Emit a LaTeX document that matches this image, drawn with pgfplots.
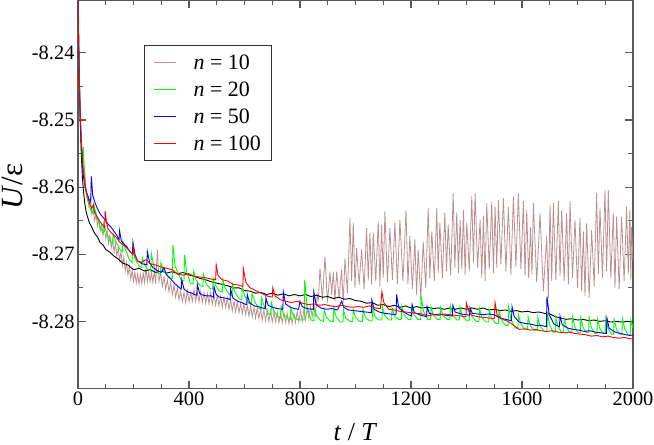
\documentclass[border=0pt]{standalone}
\usepackage{fontspec}
\setmainfont{Liberation Serif}
\usepackage{pgfplots}
\pgfplotsset{compat=1.18}
\definecolor{cbrown}{RGB}{188,143,143}
\definecolor{cgreen}{RGB}{0,255,0}
\definecolor{cblue}{RGB}{0,0,255}
\definecolor{cred}{RGB}{255,0,0}
\begin{document}
\begin{tikzpicture}
\begin{axis}[
  at={(0,0)}, anchor=south west,
  scale only axis, width=555bp, height=388bp,
  xmin=0, xmax=2000, ymin=-8.29, ymax=-8.2322,
  xtick={0,400,800,1200,1600,2000},
  xticklabels={0,400,800,1200,1600,2000},
  minor x tick num=3,
  ytick={-8.28,-8.27,-8.26,-8.25,-8.24},
  yticklabels={-8.28,-8.27,-8.26,-8.25,-8.24},
  minor y tick num=1,
  /pgf/number format/assume math mode=true,
  tick align=inside,
  major tick length=8bp, minor tick length=5bp,
  axis line style={black!65, line width=1.2bp},
  every tick/.style={black!65, line width=1.2bp},
  ticklabel style={font=\fontsize{20.5}{24}\selectfont},
  xlabel={\textit{t} / \textit{T}},
  ylabel={\textit{U}/ε},
  xlabel style={font=\fontsize{26}{30}\selectfont, at={(axis description cs:0.5,0)}, anchor=base, yshift=-51.5bp},
  ylabel style={font=\fontsize{31}{35}\selectfont, at={(axis description cs:-0.0995,0.5206)}, anchor=base},
  legend cell align=left,
  legend image code/.code={\draw[#1, line width=1bp] (0bp,0bp) -- (22bp,0bp);},
  legend style={at={(axis description cs:0.1189,0.8853)}, anchor=north west,
    draw=black!80, line width=1.2bp, fill=white,
    font=\fontsize{22}{26}\selectfont,
    inner xsep=9bp, inner ysep=7bp, row sep=7bp,
    /tikz/every odd column/.append style={column sep=15bp}},
]
% n = 10
\addplot[cbrown, line width=0.8bp] coordinates {
(0,-8.2320) (4,-8.2425) (8,-8.2497) (12,-8.2540) (16,-8.2566) (20,-8.2582) (24,-8.2572) (28,-8.2602) (34,-8.2612) (40,-8.2628) (45,-8.2618) (50,-8.2640) (55,-8.2632) (60,-8.2650) (65,-8.2640) (70,-8.2658) (75,-8.2648) (80,-8.2665) (85,-8.2655) (90,-8.2672) (95,-8.2660) (100,-8.2677) (105,-8.2666) (110,-8.2684) (115,-8.2672) (120,-8.2690) (125,-8.2678) (130,-8.2697) (135,-8.2684) (140,-8.2703) (145,-8.2690) (150,-8.2709) (155,-8.2696) (160,-8.2717) (165,-8.2704) (170,-8.2725) (175,-8.2712) (180,-8.2731) (185,-8.2718) (190,-8.2737) (195,-8.2724) (200,-8.2740) (205,-8.2727) (210,-8.2743) (215,-8.2729) (220,-8.2745) (225,-8.2730) (230,-8.2744) (235,-8.2728) (240,-8.2742) (245,-8.2720) (250,-8.2741) (255,-8.2726) (260,-8.2741) (265,-8.2727) (270,-8.2742) (275,-8.2725) (280,-8.2744) (286,-8.2693) (292,-8.2740) (298,-8.2728) (304,-8.2748) (310,-8.2734) (316,-8.2752) (322,-8.2738) (328,-8.2756) (334,-8.2742) (340,-8.2760) (346,-8.2746) (352,-8.2764) (358,-8.2750) (364,-8.2768) (370,-8.2755) (376,-8.2771) (382,-8.2757) (388,-8.2772) (394,-8.2754) (400,-8.2771) (406,-8.2757) (412,-8.2770) (418,-8.2752) (424,-8.2770) (430,-8.2756) (436,-8.2771) (442,-8.2755) (448,-8.2772) (454,-8.2757) (460,-8.2773) (466,-8.2758) (472,-8.2774) (478,-8.2757) (484,-8.2775) (490,-8.2760) (496,-8.2776) (502,-8.2761) (508,-8.2777) (514,-8.2762) (520,-8.2779) (526,-8.2764) (532,-8.2780) (538,-8.2765) (544,-8.2782) (550,-8.2768) (556,-8.2784) (562,-8.2770) (568,-8.2786) (574,-8.2771) (580,-8.2787) (586,-8.2773) (592,-8.2789) (598,-8.2774) (604,-8.2790) (610,-8.2776) (616,-8.2792) (622,-8.2777) (628,-8.2793) (634,-8.2779) (640,-8.2795) (646,-8.2780) (652,-8.2796) (658,-8.2782) (664,-8.2798) (670,-8.2783) (676,-8.2799) (682,-8.2784) (688,-8.2800) (694,-8.2785) (700,-8.2801) (706,-8.2786) (712,-8.2801) (718,-8.2786) (724,-8.2802) (730,-8.2787) (736,-8.2802) (742,-8.2787) (748,-8.2802) (754,-8.2788) (760,-8.2803) (766,-8.2788) (772,-8.2803) (778,-8.2788) (784,-8.2802) (790,-8.2785) (796,-8.2801) (802,-8.2784) (808,-8.2800) (814,-8.2782) (820,-8.2798) (826,-8.2780) (832,-8.2796) (838,-8.2778) (844,-8.2793) (850,-8.2776) (856,-8.2790) (862,-8.2760)
(866,-8.2768) (872,-8.2721) (881,-8.2768) (890,-8.2703) (899,-8.2772) (908,-8.2726) (914,-8.2760) (920,-8.2726) (926,-8.2770) (932,-8.2726) (941,-8.2765) (950,-8.2723) (956,-8.2772) (962,-8.2706) (971,-8.2758) (980,-8.2646) (986,-8.2740) (992,-8.2653) (998,-8.2750) (1004,-8.2691) (1013,-8.2745) (1022,-8.2693) (1031,-8.2752) (1040,-8.2661) (1046,-8.2738) (1052,-8.2668) (1058,-8.2745) (1064,-8.2668) (1073,-8.2740) (1082,-8.2651) (1088,-8.2748) (1094,-8.2656) (1100,-8.2735) (1106,-8.2636) (1115,-8.2742) (1124,-8.2661) (1133,-8.2738) (1142,-8.2653) (1151,-8.2745) (1160,-8.2649) (1171,-8.2740) (1182,-8.2634) (1189,-8.2745) (1196,-8.2673) (1205,-8.2752) (1214,-8.2678) (1220,-8.2760) (1226,-8.2693) (1235,-8.2768) (1244,-8.2681) (1253,-8.2750) (1262,-8.2631) (1268,-8.2735) (1275,-8.2666) (1284,-8.2740) (1293,-8.2631) (1298,-8.2728) (1304,-8.2653) (1313,-8.2735) (1322,-8.2638) (1328,-8.2725) (1334,-8.2656) (1343,-8.2732) (1352,-8.2609) (1358,-8.2720) (1365,-8.2638) (1371,-8.2728) (1377,-8.2649) (1383,-8.2722) (1389,-8.2634) (1395,-8.2730) (1401,-8.2653) (1410,-8.2725) (1419,-8.2614) (1425,-8.2712) (1431,-8.2609) (1440,-8.2720) (1449,-8.2649) (1455,-8.2735) (1461,-8.2643) (1467,-8.2740) (1473,-8.2624) (1482,-8.2722) (1491,-8.2622) (1497,-8.2728) (1503,-8.2629) (1509,-8.2720) (1515,-8.2619) (1524,-8.2715) (1533,-8.2616) (1542,-8.2725) (1551,-8.2629) (1560,-8.2730) (1569,-8.2614) (1578,-8.2718) (1587,-8.2609) (1596,-8.2722) (1605,-8.2621) (1611,-8.2732) (1617,-8.2634) (1624,-8.2735) (1631,-8.2660) (1636,-8.2730) (1641,-8.2624) (1653,-8.2742) (1665,-8.2639) (1677,-8.2755) (1689,-8.2673) (1695,-8.2765) (1701,-8.2626) (1707,-8.2740) (1713,-8.2624) (1722,-8.2738) (1731,-8.2621) (1737,-8.2732) (1743,-8.2634) (1752,-8.2740) (1761,-8.2639) (1767,-8.2745) (1773,-8.2621) (1782,-8.2735) (1791,-8.2649) (1800,-8.2750) (1809,-8.2646) (1815,-8.2755) (1821,-8.2666) (1827,-8.2762) (1833,-8.2654) (1842,-8.2765) (1851,-8.2664) (1860,-8.2748) (1869,-8.2609) (1875,-8.2730) (1881,-8.2631) (1890,-8.2735) (1899,-8.2604) (1905,-8.2725) (1911,-8.2604) (1920,-8.2735) (1929,-8.2639) (1935,-8.2750) (1941,-8.2644) (1950,-8.2752) (1959,-8.2644) (1968,-8.2740) (1977,-8.2629) (1983,-8.2730) (1989,-8.2634) (1992,-8.2738) (1995,-8.2659) (2000,-8.2710)
};
\addlegendentry{\textit{n} = 10}
% black (not in legend)
\addplot[black, line width=0.9bp, forget plot] coordinates {
(0,-8.2320) (4,-8.2430) (8,-8.2500) (12,-8.2552) (16,-8.2587) (20,-8.2607) (25,-8.2626) (30,-8.2638) (35,-8.2645) (40,-8.2652) (50,-8.2660) (60,-8.2669) (70,-8.2674) (80,-8.2683) (90,-8.2686) (100,-8.2693) (115,-8.2697) (130,-8.2703) (145,-8.2707) (160,-8.2713) (180,-8.2716) (200,-8.2723) (220,-8.2721) (240,-8.2725) (260,-8.2723) (280,-8.2727) (300,-8.2725) (320,-8.2728) (340,-8.2726) (360,-8.2729) (380,-8.2727) (400,-8.2731) (420,-8.2733) (440,-8.2736) (460,-8.2738) (480,-8.2741) (500,-8.2743) (520,-8.2745) (540,-8.2747) (560,-8.2750) (580,-8.2750) (600,-8.2754) (620,-8.2755) (640,-8.2758) (660,-8.2757) (680,-8.2760) (700,-8.2758) (720,-8.2761) (740,-8.2759) (760,-8.2762) (780,-8.2760) (800,-8.2762) (820,-8.2760) (840,-8.2763) (860,-8.2761) (880,-8.2764) (900,-8.2763) (920,-8.2766) (940,-8.2764) (960,-8.2767) (980,-8.2766) (1000,-8.2769) (1020,-8.2770) (1040,-8.2773) (1060,-8.2772) (1080,-8.2776) (1100,-8.2775) (1120,-8.2778) (1140,-8.2776) (1160,-8.2779) (1180,-8.2777) (1200,-8.2780) (1220,-8.2778) (1240,-8.2780) (1260,-8.2779) (1280,-8.2781) (1300,-8.2780) (1320,-8.2782) (1340,-8.2780) (1360,-8.2782) (1380,-8.2780) (1400,-8.2782) (1420,-8.2780) (1440,-8.2782) (1460,-8.2780) (1480,-8.2783) (1500,-8.2782) (1520,-8.2784) (1540,-8.2783) (1560,-8.2785) (1580,-8.2784) (1600,-8.2786) (1620,-8.2785) (1640,-8.2787) (1660,-8.2786) (1680,-8.2788) (1700,-8.2789) (1720,-8.2793) (1740,-8.2795) (1760,-8.2797) (1780,-8.2796) (1800,-8.2798) (1820,-8.2797) (1840,-8.2799) (1860,-8.2798) (1880,-8.2800) (1900,-8.2799) (1920,-8.2801) (1940,-8.2800) (1960,-8.2801) (1980,-8.2800) (2000,-8.2801)
};
% n = 20
\addplot[cgreen, line width=0.9bp] coordinates {
(0,-8.2320) (4,-8.2428) (8,-8.2495) (12,-8.2533) (16,-8.2560) (17,-8.2568) (19,-8.2540) (24,-8.2590) (30,-8.2612) (40,-8.2628) (50,-8.2638)
(55,-8.2640) (57,-8.2626) (65,-8.2640) (80,-8.2660)
(90,-8.2668) (92,-8.2654) (100,-8.2664) (115,-8.2680)
(125,-8.2684) (127,-8.2670) (135,-8.2680) (150,-8.2692)
(160,-8.2696) (162,-8.2680) (170,-8.2692) (185,-8.2708)
(195,-8.2712) (197,-8.2695) (205,-8.2706) (220,-8.2718)
(230,-8.2720) (232,-8.2705) (240,-8.2715) (252,-8.2723)
(262,-8.2725) (264,-8.2698) (272,-8.2716) (287,-8.2728)
(297,-8.2730) (299,-8.2712) (307,-8.2724) (330,-8.2735)
(340,-8.2736) (342,-8.2686) (350,-8.2718) (372,-8.2739)
(382,-8.2740) (384,-8.2701) (392,-8.2727) (405,-8.2743)
(415,-8.2744) (417,-8.2725) (425,-8.2738) (440,-8.2747)
(450,-8.2748) (452,-8.2730) (460,-8.2742) (475,-8.2751)
(485,-8.2752) (487,-8.2735) (495,-8.2746) (510,-8.2755)
(520,-8.2756) (522,-8.2738) (530,-8.2750) (545,-8.2760)
(555,-8.2762) (557,-8.2745) (565,-8.2756) (580,-8.2766)
(590,-8.2768) (592,-8.2748) (600,-8.2761) (615,-8.2773)
(625,-8.2775) (627,-8.2758) (635,-8.2769) (650,-8.2780)
(660,-8.2782) (662,-8.2765) (670,-8.2776) (685,-8.2788)
(695,-8.2790) (697,-8.2772) (705,-8.2784) (720,-8.2793)
(730,-8.2795) (732,-8.2778) (740,-8.2789) (755,-8.2796)
(765,-8.2797) (767,-8.2780) (775,-8.2791) (790,-8.2797) (805,-8.2798)
(815,-8.2798) (817,-8.2738) (825,-8.2778) (840,-8.2798)
(850,-8.2799) (852,-8.2780) (860,-8.2792) (875,-8.2799)
(885,-8.2800) (887,-8.2782) (895,-8.2794) (910,-8.2800)
(920,-8.2800) (922,-8.2780) (930,-8.2793) (945,-8.2801)
(955,-8.2801) (957,-8.2783) (965,-8.2795) (980,-8.2800)
(990,-8.2800) (992,-8.2782) (1000,-8.2794) (1015,-8.2800)
(1025,-8.2800) (1027,-8.2781) (1035,-8.2794) (1050,-8.2799)
(1060,-8.2799) (1062,-8.2780) (1070,-8.2793) (1085,-8.2798)
(1095,-8.2798) (1097,-8.2778) (1105,-8.2791) (1120,-8.2798)
(1130,-8.2798) (1132,-8.2780) (1140,-8.2792) (1155,-8.2797)
(1165,-8.2797) (1167,-8.2777) (1175,-8.2790) (1190,-8.2797)
(1200,-8.2797) (1202,-8.2778) (1210,-8.2790) (1225,-8.2797)
(1235,-8.2797) (1237,-8.2763) (1245,-8.2785) (1260,-8.2797)
(1270,-8.2797) (1272,-8.2778) (1280,-8.2790) (1295,-8.2797)
(1305,-8.2797) (1307,-8.2779) (1315,-8.2791) (1330,-8.2797)
(1340,-8.2797) (1342,-8.2776) (1350,-8.2790) (1365,-8.2798)
(1375,-8.2798) (1377,-8.2779) (1385,-8.2792) (1400,-8.2799)
(1410,-8.2799) (1412,-8.2780) (1420,-8.2793) (1435,-8.2800)
(1445,-8.2800) (1447,-8.2781) (1455,-8.2794) (1470,-8.2801)
(1480,-8.2801) (1482,-8.2782) (1490,-8.2795) (1505,-8.2803)
(1515,-8.2803) (1517,-8.2784) (1525,-8.2797) (1540,-8.2806)
(1550,-8.2806) (1552,-8.2778) (1560,-8.2797) (1575,-8.2810)
(1585,-8.2810) (1587,-8.2790) (1595,-8.2803) (1610,-8.2812)
(1620,-8.2812) (1622,-8.2793) (1630,-8.2806) (1645,-8.2814)
(1655,-8.2814) (1657,-8.2794) (1665,-8.2807) (1680,-8.2815)
(1690,-8.2815) (1692,-8.2789) (1700,-8.2806) (1712,-8.2816)
(1720,-8.2816) (1722,-8.2794) (1730,-8.2808) (1742,-8.2816)
(1750,-8.2816) (1752,-8.2795) (1760,-8.2809) (1772,-8.2816)
(1780,-8.2816) (1782,-8.2793) (1790,-8.2808) (1802,-8.2817)
(1810,-8.2817) (1812,-8.2795) (1820,-8.2809) (1832,-8.2817)
(1840,-8.2817) (1842,-8.2794) (1850,-8.2809) (1862,-8.2818)
(1870,-8.2818) (1872,-8.2796) (1880,-8.2810) (1892,-8.2818)
(1900,-8.2818) (1902,-8.2795) (1910,-8.2810) (1922,-8.2819)
(1930,-8.2819) (1932,-8.2797) (1940,-8.2811) (1952,-8.2819)
(1960,-8.2819) (1962,-8.2796) (1970,-8.2811) (1982,-8.2820)
(1990,-8.2820) (1992,-8.2798) (2000,-8.2810)
};
\addlegendentry{\textit{n} = 20}
% n = 50
\addplot[cblue, line width=0.9bp] coordinates {
(0,-8.2320) (4,-8.2425) (8,-8.2495) (12,-8.2535) (16,-8.2565) (20,-8.2585) (25,-8.2598) (30,-8.2608) (35,-8.2612) (40,-8.2618) (46,-8.2622) (48,-8.2584) (53,-8.2612) (60,-8.2622) (70,-8.2632) (80,-8.2640) (90,-8.2645) (100,-8.2650) (110,-8.2656) (120,-8.2660) (130,-8.2666) (140,-8.2672) (148,-8.2678) (150,-8.2665) (156,-8.2680) (165,-8.2685) (175,-8.2688) (185,-8.2695) (196,-8.2700) (198,-8.2682) (205,-8.2700) (215,-8.2710) (230,-8.2714) (248,-8.2716) (250,-8.2696) (258,-8.2712) (270,-8.2720) (285,-8.2724) (300,-8.2727) (310,-8.2720) (318,-8.2730) (330,-8.2735) (345,-8.2742) (360,-8.2748) (372,-8.2752) (374,-8.2738) (382,-8.2752) (395,-8.2756) (410,-8.2758) (420,-8.2760) (428,-8.2761) (430,-8.2745) (438,-8.2758) (450,-8.2761) (465,-8.2762) (480,-8.2762) (488,-8.2764) (490,-8.2748) (498,-8.2760) (510,-8.2764) (525,-8.2765) (540,-8.2766) (548,-8.2768) (550,-8.2752) (558,-8.2765) (575,-8.2770) (590,-8.2772) (600,-8.2774) (608,-8.2775) (610,-8.2760) (618,-8.2772) (635,-8.2777) (650,-8.2778) (665,-8.2780) (675,-8.2781) (677,-8.2765) (685,-8.2776) (700,-8.2779) (720,-8.2781) (738,-8.2782) (740,-8.2756) (748,-8.2774) (765,-8.2779) (780,-8.2781) (795,-8.2782) (800,-8.2770) (808,-8.2778) (825,-8.2781) (848,-8.2782) (850,-8.2756) (858,-8.2775) (875,-8.2780) (895,-8.2782) (915,-8.2781) (935,-8.2783) (950,-8.2770) (958,-8.2779) (975,-8.2783) (995,-8.2784) (1015,-8.2785) (1035,-8.2786) (1057,-8.2787) (1059,-8.2768) (1067,-8.2782) (1085,-8.2786) (1105,-8.2788) (1125,-8.2789) (1146,-8.2790) (1148,-8.2760) (1156,-8.2780) (1175,-8.2786) (1190,-8.2790) (1202,-8.2792) (1204,-8.2775) (1212,-8.2787) (1230,-8.2790) (1245,-8.2792) (1256,-8.2793) (1258,-8.2778) (1266,-8.2788) (1285,-8.2790) (1305,-8.2789) (1325,-8.2791) (1349,-8.2792) (1351,-8.2776) (1359,-8.2786) (1380,-8.2789) (1400,-8.2790) (1411,-8.2791) (1413,-8.2780) (1421,-8.2788) (1440,-8.2789) (1460,-8.2790) (1480,-8.2789) (1500,-8.2790) (1520,-8.2795) (1540,-8.2797) (1562,-8.2799) (1564,-8.2778) (1572,-8.2793) (1590,-8.2801) (1610,-8.2803) (1630,-8.2804) (1650,-8.2806) (1670,-8.2806) (1688,-8.2808) (1690,-8.2763) (1698,-8.2790) (1715,-8.2804) (1735,-8.2808) (1737,-8.2792) (1745,-8.2805) (1765,-8.2810) (1785,-8.2812) (1805,-8.2813) (1825,-8.2815) (1845,-8.2814) (1865,-8.2816) (1885,-8.2817) (1904,-8.2818) (1906,-8.2795) (1914,-8.2810) (1935,-8.2816) (1955,-8.2818) (1975,-8.2820) (1990,-8.2821) (2000,-8.2820)
};
\addlegendentry{\textit{n} = 50}
% n = 100
\addplot[cred, line width=0.9bp] coordinates {
(0,-8.2320) (4,-8.2420) (8,-8.2490) (12,-8.2530) (16,-8.2560) (20,-8.2578) (25,-8.2595) (30,-8.2606) (35,-8.2615) (40,-8.2622) (45,-8.2628) (50,-8.2632) (55,-8.2626) (60,-8.2638) (70,-8.2645) (80,-8.2652) (90,-8.2657) (96,-8.2660) (98,-8.2636) (102,-8.2650) (108,-8.2662) (120,-8.2668) (130,-8.2672) (140,-8.2676) (150,-8.2682) (160,-8.2685) (170,-8.2688) (180,-8.2693) (190,-8.2697) (198,-8.2700) (200,-8.2690) (205,-8.2702) (215,-8.2710) (230,-8.2712) (245,-8.2708) (260,-8.2714) (280,-8.2716) (300,-8.2719) (320,-8.2721) (340,-8.2723) (360,-8.2730) (380,-8.2731) (400,-8.2729) (420,-8.2733) (440,-8.2734) (460,-8.2735) (480,-8.2737) (496,-8.2738) (498,-8.2716) (505,-8.2732) (520,-8.2738) (540,-8.2740) (560,-8.2745) (580,-8.2746) (594,-8.2748) (596,-8.2722) (605,-8.2742) (620,-8.2750) (640,-8.2754) (660,-8.2758) (680,-8.2762) (700,-8.2764) (702,-8.2750) (710,-8.2762) (730,-8.2768) (750,-8.2770) (770,-8.2772) (790,-8.2770) (810,-8.2773) (830,-8.2775) (850,-8.2774) (870,-8.2776) (890,-8.2775) (910,-8.2777) (930,-8.2778) (950,-8.2776) (970,-8.2778) (990,-8.2779) (1010,-8.2778) (1030,-8.2779) (1050,-8.2777) (1070,-8.2780) (1090,-8.2781) (1095,-8.2756) (1102,-8.2772) (1120,-8.2782) (1140,-8.2783) (1160,-8.2785) (1180,-8.2786) (1200,-8.2787) (1220,-8.2788) (1240,-8.2789) (1260,-8.2792) (1280,-8.2790) (1300,-8.2791) (1320,-8.2789) (1340,-8.2790) (1360,-8.2791) (1380,-8.2792) (1398,-8.2793) (1400,-8.2773) (1408,-8.2785) (1420,-8.2791) (1440,-8.2793) (1460,-8.2794) (1480,-8.2795) (1500,-8.2796) (1503,-8.2772) (1510,-8.2790) (1530,-8.2797) (1550,-8.2800) (1570,-8.2806) (1590,-8.2812) (1610,-8.2811) (1630,-8.2813) (1650,-8.2812) (1670,-8.2814) (1690,-8.2815) (1710,-8.2814) (1730,-8.2816) (1750,-8.2817) (1770,-8.2816) (1790,-8.2818) (1810,-8.2819) (1830,-8.2820) (1850,-8.2822) (1870,-8.2821) (1890,-8.2823) (1910,-8.2822) (1930,-8.2824) (1950,-8.2825) (1970,-8.2824) (1990,-8.2826) (2000,-8.2826)
};
\addlegendentry{\textit{n} = 100}
\end{axis}
\pgfresetboundingbox
\path (-78bp,-56.5bp) rectangle (576bp,388.5bp);
\end{tikzpicture}
\end{document}
